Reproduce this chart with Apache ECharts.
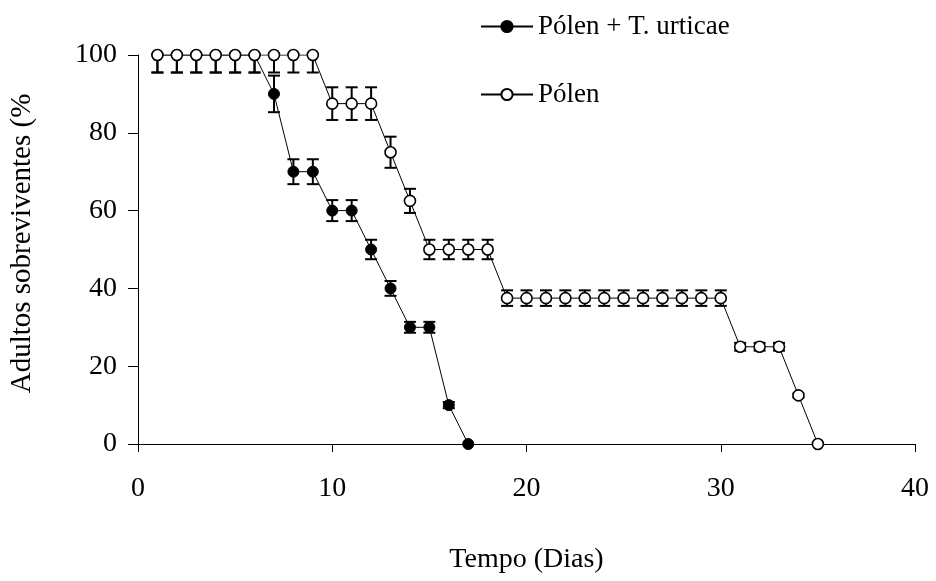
<!DOCTYPE html>
<html>
<head>
<meta charset="utf-8">
<script src="https://cdn.jsdelivr.net/npm/echarts@6/dist/echarts.min.js"></script>
<style>
  html, body { margin: 0; padding: 0; background: #fff; }
  #main { width: 936px; height: 581px; }
</style>
</head>
<body>
<div id="main"></div>
<script>
// dias
var daysPT = [1, 2, 3, 4, 5, 6, 7, 8, 9, 10, 11, 12, 13, 14, 15, 16, 17];
var daysPolen = [1, 2, 3, 4, 5, 6, 7, 8, 9, 10, 11, 12, 13, 14, 15, 16, 17, 18,
    19, 20, 21, 22, 23, 24, 25, 26, 27, 28, 29, 30, 31, 32, 33, 34, 35];

// Pólen + T. urticae
var ptVals = [100, 100, 100, 100, 100, 100, 90, 70, 70, 60, 60, 50, 40, 30, 30, 10, 0];
var ptErrUp = [0, 0, 0, 0, 0, 0, 4.7, 3.2, 3.2, 2.7, 2.7, 2.5, 1.9, 1.4, 1.4, 0.8, 0];
var ptErrDown = [4.5, 4.5, 4.5, 4.5, 4.5, 4.5, 4.7, 3.2, 3.2, 2.7, 2.7, 2.5, 1.9, 1.4, 1.4, 0.8, 0];

// Pólen
var polVals = [100, 100, 100, 100, 100, 100, 100, 100, 100, 87.5, 87.5, 87.5, 75, 62.5,
    50, 50, 50, 50, 37.5, 37.5, 37.5, 37.5, 37.5, 37.5, 37.5, 37.5, 37.5, 37.5, 37.5, 37.5,
    25, 25, 25, 12.5, 0];
var polErrUp = [0, 0, 0, 0, 0, 0, 0, 0, 0, 4.2, 4.2, 4.2, 4, 3.1,
    2.5, 2.5, 2.5, 2.5, 2, 2, 2, 2, 2, 2, 2, 2, 2, 2, 2, 2,
    1, 1, 1, 0.5, 0];
var polErrDown = [4.5, 4.5, 4.5, 4.5, 4.5, 4.5, 4.5, 4.5, 4.5, 4.2, 4.2, 4.2, 4, 3.1,
    2.5, 2.5, 2.5, 2.5, 2, 2, 2, 2, 2, 2, 2, 2, 2, 2, 2, 2,
    1, 1, 1, 0.5, 0];

var xTicks = [0, 10, 20, 30, 40];
var yTicks = [0, 20, 40, 60, 80, 100];

var font = '"Liberation Serif", "Times New Roman", serif';

function pairs(xs, ys) {
    return xs.map(function (x, i) { return [x, ys[i]]; });
}
function errData(xs, ys, up, down) {
    return xs.map(function (x, i) { return [x, ys[i], ys[i] - down[i], ys[i] + up[i]]; });
}

function renderErr(params, api) {
    var x = api.value(0), v = api.value(1), lo = api.value(2), hi = api.value(3);
    if (hi === lo) return null;
    var pLo = api.coord([x, lo]);
    var pHi = api.coord([x, hi]);
    var w = 6;
    var st = { stroke: '#000', lineWidth: 2 };
    var kids = [{ type: 'line', shape: { x1: pLo[0], y1: pLo[1], x2: pHi[0], y2: pHi[1] }, style: st }];
    if (hi > v) kids.push({ type: 'line', shape: { x1: pHi[0] - w, y1: pHi[1], x2: pHi[0] + w, y2: pHi[1] }, style: st });
    if (lo < v) kids.push({ type: 'line', shape: { x1: pLo[0] - w, y1: pLo[1], x2: pLo[0] + w, y2: pLo[1] }, style: st });
    return { type: 'group', children: kids };
}

var chart = echarts.init(document.getElementById('main'));
chart.setOption({
    animation: false,
    textStyle: { fontFamily: font, color: '#000' },
    grid: { left: 138, right: 21, top: 55, bottom: 137 },
    legend: [{
        left: 475, top: 8,
        itemWidth: 52, itemHeight: 14,
        textStyle: { fontFamily: font, fontSize: 27, color: '#000' },
        data: ['Pólen + T. urticae']
    }, {
        left: 475, top: 76,
        itemWidth: 52, itemHeight: 14,
        textStyle: { fontFamily: font, fontSize: 27, color: '#000' },
        data: ['Pólen']
    }],
    xAxis: {
        type: 'value', min: xTicks[0], max: xTicks[xTicks.length - 1], interval: 10,
        name: 'Tempo (Dias)', nameLocation: 'middle', nameGap: 102,
        nameTextStyle: { fontFamily: font, fontSize: 28, color: '#000' },
        axisLine: { lineStyle: { color: '#000', width: 1 } },
        axisTick: { length: 8, lineStyle: { color: '#000' } },
        axisLabel: { fontFamily: font, fontSize: 28, color: '#000', margin: 31 },
        splitLine: { show: false }
    },
    yAxis: {
        type: 'value', min: yTicks[0], max: yTicks[yTicks.length - 1], interval: 20,
        name: 'Adultos sobreviventes (%', nameLocation: 'middle', nameGap: 101,
        nameTextStyle: { fontFamily: font, fontSize: 29, color: '#000', padding: [0, 0, 0, 12] },
        axisLine: { show: true, lineStyle: { color: '#000', width: 1 } },
        axisTick: { show: true, length: 10, lineStyle: { color: '#000' } },
        axisLabel: { fontFamily: font, fontSize: 28, color: '#000', margin: 21 },
        splitLine: { show: false }
    },
    series: [{
        type: 'custom', name: 'errPT', z: 1,
        renderItem: renderErr,
        encode: { x: 0, y: [1, 2, 3] },
        data: errData(daysPT, ptVals, ptErrUp, ptErrDown)
    }, {
        type: 'custom', name: 'errPolen', z: 1,
        renderItem: renderErr,
        encode: { x: 0, y: [1, 2, 3] },
        data: errData(daysPolen, polVals, polErrUp, polErrDown)
    }, {
        type: 'line', name: 'Pólen + T. urticae', z: 3,
        data: pairs(daysPT, ptVals),
        symbol: 'circle', symbolSize: 11,
        lineStyle: { color: '#000', width: 1 },
        itemStyle: { color: '#000', borderColor: '#000', borderWidth: 1 }
    }, {
        type: 'line', name: 'Pólen', z: 4,
        data: pairs(daysPolen, polVals),
        symbol: 'circle', symbolSize: 11,
        lineStyle: { color: '#000', width: 1 },
        itemStyle: { color: '#fff', borderColor: '#000', borderWidth: 1.6 }
    }]
});
</script>
</body>
</html>
